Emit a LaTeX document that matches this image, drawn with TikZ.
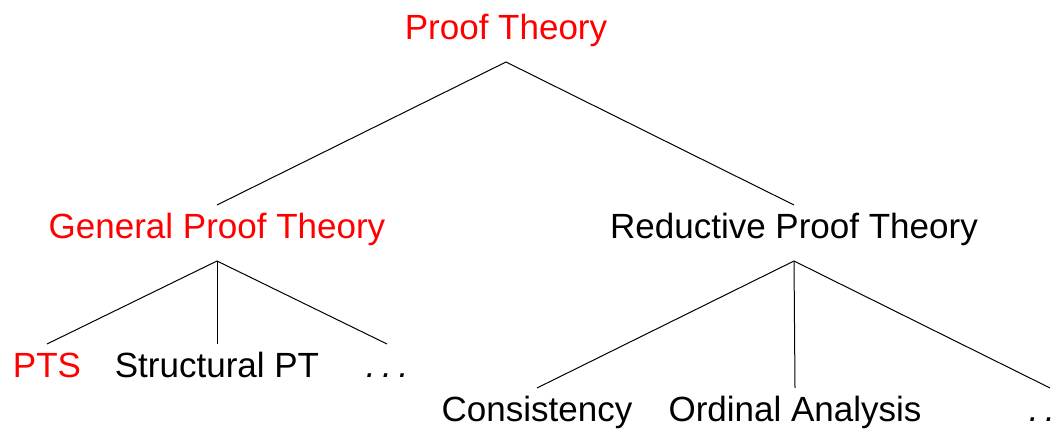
\documentclass[tikz,border=0pt]{standalone}
\usepackage{fontspec}
\setmainfont{Liberation Sans}
\usetikzlibrary{positioning}
\newcommand\etcdots{\textit{.\kern0.19em.\kern0.19em.}}

\begin{document}
\begin{tikzpicture}[x=0.5pt, y=-0.5pt,
    every node/.style={inner xsep=0pt, inner ysep=0pt, outer sep=0pt,
      text height=17pt, text depth=11pt, anchor=base,
      font=\fontsize{17.5}{21}\selectfont},
    hl/.style={text=red},
    edge/.style={draw=black, line width=0.5pt}]
  \clip (0,0) rectangle (1054,432);
  % root
  \node[hl] (pt) at (506,40) {Proof Theory};
  % second level
  \node[hl] (gpt) at (217,239) {General Proof Theory};
  \node (rpt) at (794,239) {Reductive Proof Theory};
  % leaves under general
  \node[hl] (pts) at (47,378) {PTS};
  \node (spt) at (217,378) {Structural PT};
  \node (gdots) at (387,378) {\etcdots};
  % leaves under reductive
  \node (con) at (537,422) {Consistency};
  \node (ord) at (795,422) {Ordinal Analysis};
  \node (rdots) at (1050,422) {\etcdots};
  % connectors
  \draw[edge] (gpt.north) -- (pt.south) -- (rpt.north);
  \draw[edge] (gpt.south) -- (pts.north);
  \draw[edge] (gpt.south) -- (spt.north);
  \draw[edge] (gpt.south) -- (gdots.north);
  \draw[edge] (rpt.south) -- (con.north);
  \draw[edge] (rpt.south) -- (ord.north);
  \draw[edge] (rpt.south) -- (rdots.north);
\end{tikzpicture}
\end{document}
